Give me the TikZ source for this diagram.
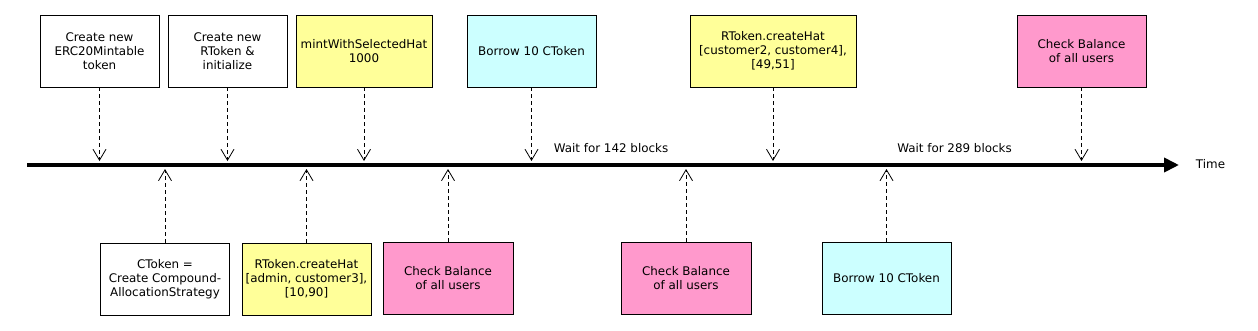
\documentclass[tikz,border=0pt]{standalone}
\usepackage{fontspec}
\setmainfont{DejaVu Sans}
\usetikzlibrary{arrows.meta}
\definecolor{boxyellow}{RGB}{255,255,153}
\definecolor{boxcyan}{RGB}{204,255,255}
\definecolor{boxpink}{RGB}{255,153,204}
\begin{document}
\begin{tikzpicture}[x=1pt,y=-1pt,
  evbox/.style={draw=black, line width=0.9pt, minimum height=72pt, align=center,
    inner sep=1pt, font=\fontsize{11.9}{14}\selectfont},
  evarrow/.style={draw=black, line width=0.8pt, dash pattern=on 4pt off 3pt,
    -{Straight Barb[length=11pt,width=13pt,line width=0.8pt]}},
  lbl/.style={font=\fontsize{11.9}{14}\selectfont, inner sep=0pt}]
\useasboundingbox (0,0) rectangle (1258,330);
% timeline
\coordinate (tstart) at (27,165);
\coordinate (tend) at (1179,165);
\draw[line width=3.8pt, -{Triangle[length=15pt,width=14pt]}] (tstart) -- (tend);
\node[lbl] (time) at (1210.5,164) {Time};
\coordinate (topy) at (0,161);
\coordinate (boty) at (0,169);
% top boxes
\node[evbox, minimum width=119pt] (t1) at (99.5,51) {Create new\\ERC20Mintable\\token};
\node[evbox, minimum width=119pt] (t2) at (227.5,51) {Create new\\RToken \&\\initialize};
\node[evbox, fill=boxyellow, minimum width=136pt] (t3) at (364,51) {mintWithSelectedHat\\1000};
\node[evbox, fill=boxcyan, minimum width=129pt] (t4) at (531.5,51) {Borrow 10 CToken};
\node[evbox, fill=boxyellow, minimum width=166pt] (t5) at (773,51) {RToken.createHat\\{[customer2, customer4],}\\{[49,51]}};
\node[evbox, fill=boxpink, minimum width=129pt] (t6) at (1081.5,51) {Check Balance\\of all users};
% bottom boxes
\node[evbox, minimum width=129pt] (b1) at (165,279) {CToken =\\Create Compound-\\AllocationStrategy};
\node[evbox, fill=boxyellow, minimum width=129pt] (b2) at (306.5,279) {RToken.createHat\\{[admin, customer3],}\\{[10,90]}};
\node[evbox, fill=boxpink, minimum width=130pt] (b3) at (448,278) {Check Balance\\of all users};
\node[evbox, fill=boxpink, minimum width=130pt] (b4) at (686,278) {Check Balance\\of all users};
\node[evbox, fill=boxcyan, minimum width=129pt] (b5) at (886.5,278) {Borrow 10 CToken};
% labels
\node[lbl] (w1) at (611,148) {Wait for 142 blocks};
\node[lbl] (w2) at (954.5,148) {Wait for 289 blocks};
% connectors
\foreach \n in {t1,t2,t3,t4,t5,t6}{
  \draw[evarrow] (\n.south) -- (\n.south |- topy);
}
\foreach \n in {b1,b2,b3,b4,b5}{
  \draw[evarrow] (\n.north) -- (\n.north |- boty);
}
\end{tikzpicture}
\end{document}
